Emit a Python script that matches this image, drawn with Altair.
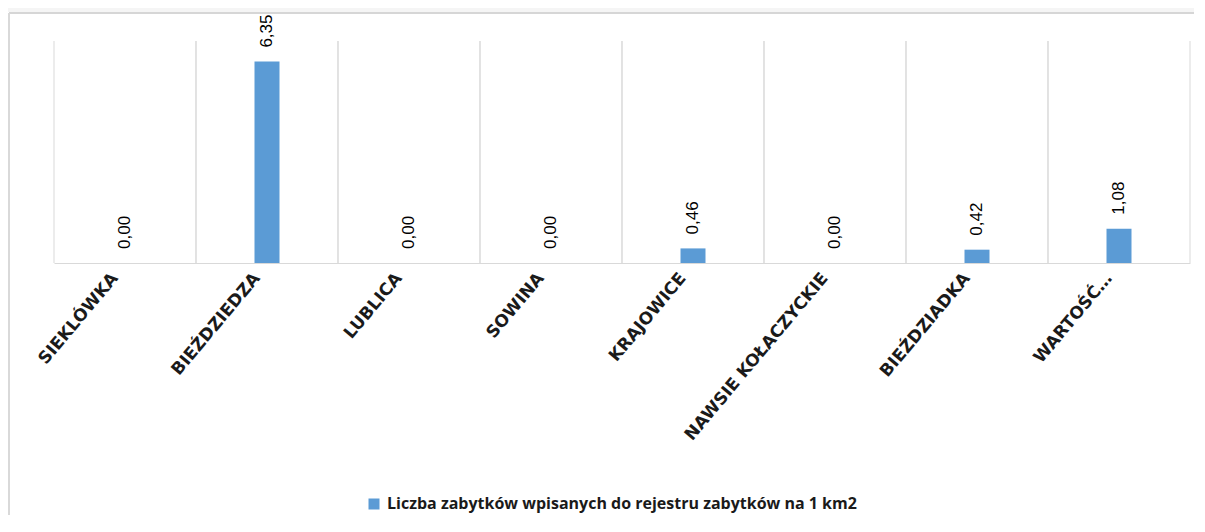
import altair as alt
import pandas as pd

categories = ["SIEKLÓWKA", "BIEŹDZIEDZA", "LUBLICA", "SOWINA", "KRAJOWICE",
              "NAWSIE KOŁACZYCKIE", "BIEŹDZIADKA", "WARTOŚĆ…"]
values = [0.00, 6.35, 0.00, 0.00, 0.46, 0.00, 0.42, 1.08]
series_name = "Liczba zabytków wpisanych do rejestru zabytków na 1 km2"

df = pd.DataFrame({"cat": categories, "value": values, "series": series_name})

W, H = 1136, 222
PAD_L, PAD_T, PAD_R, PAD_B = 46, 33, 4, 252
GRID = "#d9d9d9"
BLUE = "#5b9bd5"

base = alt.Chart(df)

# decorative frame of the chart container (not data)
strip = base.mark_rect(color="#f5f5f5").encode(
    x=alt.value(-PAD_L), x2=alt.value(W + PAD_R), y=alt.value(-PAD_T), y2=alt.value(-PAD_T + 4))
frame_top = base.mark_rule(color="#d6d6d6", strokeWidth=2).encode(
    x=alt.value(-PAD_L + 1), x2=alt.value(W + PAD_R), y=alt.value(-PAD_T + 5))
frame_left = base.mark_rule(color="#d9d9d9", strokeWidth=2).encode(
    x=alt.value(-PAD_L + 1), y=alt.value(-PAD_T + 5), y2=alt.value(H + PAD_B))

xenc = alt.X("cat:N", sort=categories, title=None,
             scale=alt.Scale(paddingInner=0, paddingOuter=0),
             axis=alt.Axis(labelAngle=-50, labelFont="DejaVu Sans", labelFontWeight="bold",
                           labelFontSize=17, labelColor="#1a1a1a", ticks=False,
                           domainColor=GRID, domainWidth=1, grid=False,
                           labelPadding=12, labelOffset=-10, labelLimit=400))

grid_left = base.mark_rule(color=GRID, strokeWidth=1).encode(
    x=alt.X("cat:N", sort=categories, bandPosition=0),
    y=alt.value(0), y2=alt.value(H))
grid_right = base.mark_rule(color=GRID, strokeWidth=1).encode(
    x=alt.X("cat:N", sort=categories, bandPosition=1),
    y=alt.value(0), y2=alt.value(H))

bars = base.mark_bar(size=25).encode(
    x=xenc,
    y=alt.Y("value:Q", scale=alt.Scale(domain=[0, 7]), axis=None),
    color=alt.Color("series:N", scale=alt.Scale(range=[BLUE]),
                    legend=alt.Legend(title=None, orient="none", legendX=312, legendY=455,
                                      symbolType="square", symbolSize=121,
                                      symbolStrokeWidth=0, labelFont="Open Sans",
                                      labelFontWeight="bold", labelFontSize=16,
                                      labelColor="#1a1a1a", labelLimit=800,
                                      labelOffset=5, padding=0)),
)

labels = base.transform_calculate(
    lbl="replace(format(datum.value, '.2f'), '.', ',')"
).mark_text(angle=270, align="left", baseline="middle", dx=14,
            font="Liberation Sans", fontSize=17, color="#000000").encode(
    x=alt.X("cat:N", sort=categories),
    y=alt.Y("value:Q", scale=alt.Scale(domain=[0, 7])),
    text="lbl:N")

chart = alt.layer(strip, frame_top, frame_left, grid_left, grid_right, bars, labels).properties(
    width=W, height=H,
    autosize=alt.AutoSizeParams(type="none"),
    padding={"left": PAD_L, "top": PAD_T, "right": PAD_R, "bottom": PAD_B},
    background="#ffffff",
).configure_view(stroke=None)

chart.save("out.html", embed_options={"renderer": "svg", "actions": False})
